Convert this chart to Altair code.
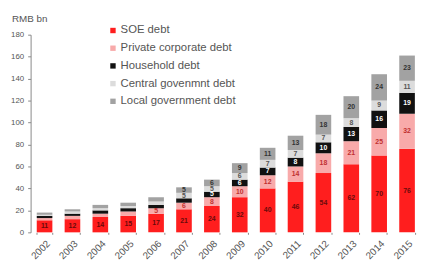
import altair as alt
import pandas as pd

years = [str(y) for y in range(2002, 2016)]
series = ["SOE debt", "Private corporate debt", "Household debt",
          "Central govenmnt debt", "Local government debt"]
soe = [11, 12, 14, 15, 17, 21, 24, 32, 40, 46, 54, 62, 70, 76]
private = [2, 3, 3, 4, 5, 6, 8, 10, 12, 14, 18, 21, 25, 32]
household = [2, 2, 3, 3, 3, 4, 5, 6, 7, 8, 10, 13, 16, 19]
central = [1, 2, 2, 2, 3, 5, 5, 6, 7, 7, 7, 8, 9, 11]
local = [2, 2, 3, 3, 4, 5, 6, 9, 11, 13, 18, 20, 24, 23]
colors = ["#ff1e1e", "#f8aaaa", "#111111", "#dcdcdc", "#a2a2a2"]
label_colors = ["#6a0a0a", "#c03030", "#ffffff", "#555555", "#333333"]
y_ticks = list(range(0, 181, 20))

rows = []
for k, (name, vals) in enumerate(zip(series, [soe, private, household, central, local])):
    for yr, v in zip(years, vals):
        rows.append({"year": yr, "series": name, "k": k, "v": v,
                     "lc": label_colors[k]})
df = pd.DataFrame(rows)

base = alt.Chart(df).transform_stack(
    stack="v", groupby=["year"], sort=[alt.SortField("k", order="ascending")],
    as_=["y0", "y1"]
).transform_calculate(mid="(datum.y0 + datum.y1) / 2")

x_axis = alt.Axis(labelAngle=-45, labelFontSize=10, labelColor="#555",
                  domain=False, ticks=True, tickBand="extent", tickSize=2,
                  tickColor="#888", labelPadding=4, labelFont="Liberation Sans")
y_axis = alt.Axis(values=y_ticks, tickCount=10, grid=False, labelFontSize=8,
                  labelOverlap=False, labelFlush=False,
                  labelColor="#555", domainColor="#888", tickColor="#888",
                  tickSize=3, labelPadding=4, labelFont="Liberation Sans")
x_scale = alt.Scale(paddingInner=0.44, paddingOuter=0.22)
y_scale = alt.Scale(domain=[0, 180], nice=False)

bars = base.mark_bar().encode(
    x=alt.X("year:N", title=None, sort=years, scale=x_scale, axis=x_axis),
    y=alt.Y("y0:Q", title=None, scale=y_scale, axis=y_axis),
    y2="y1:Q",
    color=alt.Color("series:N", sort=series,
                    scale=alt.Scale(domain=series, range=colors),
                    legend=alt.Legend(title=None, orient="none", legendX=78, legendY=-10,
                                      symbolType="square", symbolSize=30,
                                      labelFontSize=11.5, labelColor="#555",
                                      labelFont="Liberation Sans", labelOffset=2,
                                      rowPadding=5, symbolStrokeWidth=0)),
    order=alt.Order("k:Q", sort="ascending"),
)

labels = base.transform_filter("datum.v >= 5").mark_text(
    fontSize=7, fontWeight="bold", font="Liberation Sans").encode(
    x=alt.X("year:N", title=None, sort=years, scale=x_scale, axis=x_axis),
    y=alt.Y("mid:Q", title=None, scale=y_scale, axis=y_axis),
    text=alt.Text("v:Q"),
    color=alt.Color("lc:N", scale=None),
)

unit = alt.Chart(pd.DataFrame({"t": ["RMB bn"]})).mark_text(
    align="left", baseline="middle", fontSize=10, color="#555", font="Liberation Sans"
).encode(x=alt.value(-19), y=alt.value(-16), text="t:N")

chart = alt.layer(bars, labels, unit).properties(
    width=397, height=201,
    autosize=alt.AutoSizeParams(type="none"),
    padding={"left": 23, "top": 25, "right": 0, "bottom": 27},
).configure_view(stroke=None)

chart.save("out.html", embed_options={"renderer": "svg", "actions": False})
